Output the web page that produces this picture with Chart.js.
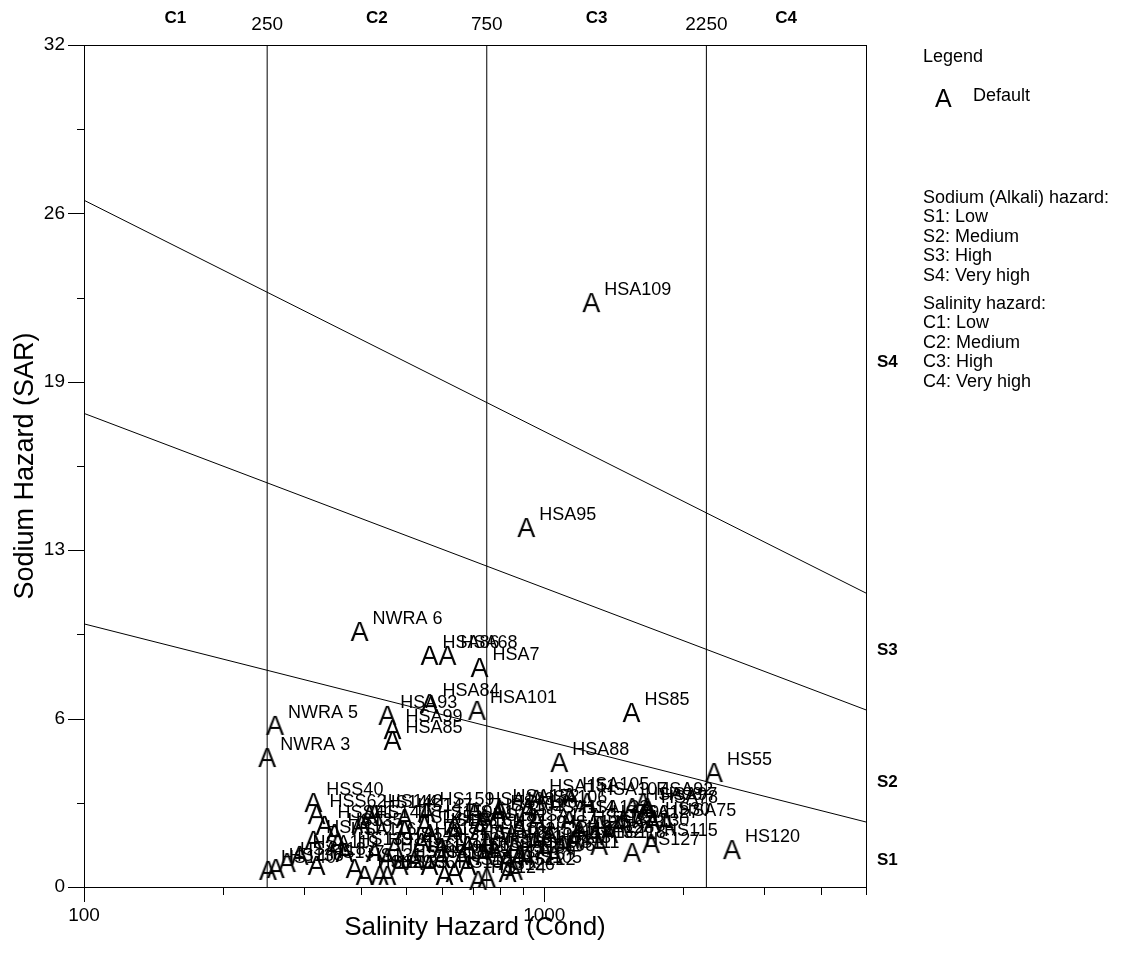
<!DOCTYPE html>
<html>
<head>
<meta charset="utf-8">
<script src="https://cdn.jsdelivr.net/npm/chart.js@4.4.1/dist/chart.umd.min.js"></script>
<style>
  html, body { margin: 0; padding: 0; background: #fff; }
  #wrap { width: 1139px; height: 972px; }
</style>
</head>
<body>
<div id="wrap"><canvas id="chart" width="1139" height="972"></canvas></div>
<script>
// Samples: conductivity (x), sodium adsorption ratio (y), sample name
const conds = [
  1265, 914, 397, 563, 616, 723, 1547, 563, 456, 714, 468, 468, 260, 250, 1078, 2337, 2557,
  251, 261, 276, 315, 320, 315, 320, 350, 356, 387, 407, 439, 456, 428, 555, 705, 417, 497,
  549, 638, 791, 473, 541, 598, 681, 752, 861, 951, 456, 522, 598, 661, 741, 832, 918, 607,
  638, 718, 832, 750, 859, 799, 961, 1133, 1239, 1640, 1680, 1840, 1316, 1552, 1673, 1715,
  1099, 1552, 1706, 1191, 1026, 1000, 1051, 883, 799, 723, 638, 563, 497, 401, 368, 428,
  485, 563, 681, 779, 883, 1161, 1284, 1384, 1455, 1133, 961, 333, 294, 1316, 741, 918
];
const sars = [
  22.23, 13.68, 9.73, 8.82, 8.82, 8.36, 6.65, 6.99, 6.54, 6.73, 6.0, 5.59, 6.16, 4.94, 4.75, 4.37, 1.44,
  0.65, 0.72, 0.95, 3.23, 2.77, 1.79, 0.84, 2.05, 1.71, 0.72, 0.46, 0.46, 0.46, 2.77, 2.85, 2.85, 2.74, 2.62,
  2.36, 2.36, 2.74, 1.52, 1.71, 1.52, 1.60, 1.71, 1.52, 1.71, 1.10, 1.03, 1.10, 1.10, 1.22, 1.03, 1.10, 0.46,
  0.57, 0.27, 0.57, 0.38, 0.65, 2.96, 3.35, 3.42, 3.23, 3.23, 2.93, 2.43, 2.36, 3.04, 3.04, 2.47,
  1.60, 1.33, 1.67, 2.17, 1.98, 1.41, 1.22, 2.24, 1.98, 2.24, 2.05, 2.05, 2.17, 2.36, 1.33, 1.33,
  0.84, 0.84, 0.84, 1.41, 1.22, 1.79, 1.98, 2.05, 2.36, 2.55, 2.55, 2.36, 1.22, 1.60, 2.62, 2.93
];
const names = [
  "HSA109", "HSA95", "NWRA 6", "HSA86", "HSA68", "HSA7", "HS85", "HSA84", "HSA93", "HSA101", "HSA99", "HSA85", "NWRA 5", "NWRA 3", "HSA88", "HS55", "HS120",
  "HS140", "HS138", "HSA118", "HSS40", "HSS62", "HSA110", "HS137", "HS135", "HSA116", "HS131", "HS129", "HS133", "HS136", "HS142", "HS159", "HSA103", "HS144", "HS147",
  "HS150", "HSA104", "HSA100", "HS148", "HS152", "HS155", "HSA108", "HS102", "HS104", "HSA112", "HS146", "HS149", "HS156", "HS158", "HS160", "HS106", "HS108", "HS157",
  "HS154", "HS124", "HS122", "HS126", "HS105", "HSA152", "HSA151", "HSA105", "HSA107", "HSA92", "HSA78", "HSA75", "HSA96", "HSA98", "HSA97", "HS30",
  "HSA132", "HS127", "HS115", "HSA121", "HSA125", "HS113", "HS111", "HSA117", "HS119", "HS162", "HS161", "HS153", "HS145", "HS141", "HS139", "HS143",
  "HS134", "HS151", "HS163", "HS101", "HS107", "HSA128", "HSA131", "HSA130", "HSA127", "HSA123", "HSA114", "HSS41", "HSA119", "HS118", "HSA102", "HSA106"
];

// Salinity class limits and labels
const condBounds = [250, 750, 2250];
const cClasses = ["C1", "C2", "C3", "C4"];
const cClassCenters = [158, 433, 1299, 3354];

// Sodium hazard boundary lines, from EC 100 to EC 5000
const lineEnds = [100, 5000];
const sodiumLow = [10.0, 2.47];
const sodiumMid = [18.0, 6.73];
const sodiumHigh = [26.1, 11.17];
const sClasses = ["S1", "S2", "S3", "S4"];
const sClassSar = [1.03, 3.99, 9.0, 19.95];

// Axis ticks
const xTickValues = [100, 200, 300, 400, 500, 600, 700, 800, 900, 1000, 2000, 3000, 4000, 5000];
const xTickLabels = [100, 1000];
const yTickValues = [0, 3.2, 6.4, 9.6, 12.8, 16, 19.2, 22.4, 25.6, 28.8, 32];

const sodiumText = ["Sodium (Alkali) hazard:", "S1: Low", "S2: Medium", "S3: High", "S4: Very high"];
const salinityText = ["Salinity hazard:", "C1: Low", "C2: Medium", "C3: High", "C4: Very high"];

const FONT = '"Liberation Sans", Arial, sans-serif';

function letterMarker(size) {
  const c = document.createElement('canvas');
  c.width = Math.ceil(size * 0.75);
  c.height = Math.ceil(size * 0.8);
  const g = c.getContext('2d');
  g.font = size + 'px ' + FONT;
  g.textAlign = 'center';
  g.textBaseline = 'alphabetic';
  g.fillStyle = '#000';
  g.fillText('A', c.width / 2, c.height / 2 + size * 0.358);
  return c;
}

const lineSet = (pts) => ({
  type: 'line', data: pts, borderColor: '#000', borderWidth: 1,
  pointRadius: 0, showLine: true, fill: false
});

const datasets = [
  ...condBounds.map(v => lineSet([{x: v, y: 0}, {x: v, y: 32}])),
  ...[sodiumLow, sodiumMid, sodiumHigh].map(s => lineSet(lineEnds.map((x, i) => ({x, y: s[i]})))),
  {
    label: 'Default',
    data: conds.map((x, i) => ({x, y: sars[i]})),
    pointStyle: letterMarker(27),
    pointRadius: 10,
    clip: false
  }
];

const pointLabels = {
  id: 'pointLabels',
  afterDatasetsDraw(chart) {
    const ctx = chart.ctx;
    const meta = chart.getDatasetMeta(chart.data.datasets.length - 1);
    ctx.save();
    ctx.font = '18px ' + FONT;
    ctx.fillStyle = '#000';
    ctx.textBaseline = 'middle';
    ctx.textAlign = 'left';
    meta.data.forEach((el, i) => ctx.fillText(names[i], el.x + 13, el.y - 12));
    ctx.restore();
  }
};

const decor = {
  id: 'decor',
  afterDraw(chart) {
    const ctx = chart.ctx, a = chart.chartArea;
    const xs = chart.scales.x, ys = chart.scales.y;
    ctx.save();
    ctx.strokeStyle = '#000';
    ctx.lineWidth = 1;
    ctx.strokeRect(a.left + 0.5, a.top + 0.5, a.right - a.left, a.bottom - a.top);

    // tick marks, long for labelled ticks
    ctx.beginPath();
    xs.ticks.forEach(t => {
      const px = Math.round(xs.getPixelForValue(t.value)) + 0.5;
      const len = xTickLabels.includes(t.value) ? 15 : 8;
      ctx.moveTo(px, a.bottom); ctx.lineTo(px, a.bottom + len);
    });
    ys.ticks.forEach((t, i) => {
      const py = Math.round(ys.getPixelForValue(t.value)) + 0.5;
      const len = i % 2 === 0 ? 16 : 7;
      ctx.moveTo(a.left - len, py); ctx.lineTo(a.left, py);
    });
    ctx.stroke();

    ctx.fillStyle = '#000';
    ctx.textBaseline = 'middle';

    // class limits along the top
    ctx.textAlign = 'center';
    ctx.font = '19px ' + FONT;
    condBounds.forEach(v => ctx.fillText(String(v), xs.getPixelForValue(v), 25));
    ctx.font = 'bold 17px ' + FONT;
    cClasses.forEach((c, i) => ctx.fillText(c, xs.getPixelForValue(cClassCenters[i]), 18));

    // sodium classes on the right
    ctx.textAlign = 'left';
    sClasses.forEach((s, i) => ctx.fillText(s, a.right + 11, ys.getPixelForValue(sClassSar[i])));

    // legend block
    const lx = 923;
    ctx.font = '18px ' + FONT;
    ctx.fillText('Legend', lx, 57);
    ctx.fillText('Default', 973, 96);
    ctx.font = '25px ' + FONT;
    ctx.textBaseline = 'alphabetic';
    ctx.fillText('A', 935, 107);
    ctx.textBaseline = 'middle';
    ctx.font = '18px ' + FONT;
    sodiumText.forEach((t, i) => ctx.fillText(t, lx, 198 + i * 19.5));
    salinityText.forEach((t, i) => ctx.fillText(t, lx, 304 + i * 19.5));
    ctx.restore();
  }
};

new Chart(document.getElementById('chart'), {
  type: 'scatter',
  data: { datasets },
  options: {
    responsive: false,
    animation: false,
    devicePixelRatio: 1,
    layout: { padding: { top: 45, right: 273, bottom: 0, left: 0 } },
    plugins: { legend: { display: false }, tooltip: { enabled: false } },
    scales: {
      x: {
        type: 'logarithmic',
        min: 100, max: 5000,
        afterBuildTicks: s => { s.ticks = xTickValues.map(v => ({value: v})); },
        afterFit: s => { s.height = 85; },
        grid: { display: false, drawTicks: false },
        border: { display: false },
        ticks: {
          autoSkip: false, maxRotation: 0, padding: 17,
          color: '#000', font: { family: FONT, size: 19 },
          callback: v => xTickLabels.includes(v) ? String(v) : ''
        },
        title: {
          display: true, text: 'Salinity Hazard (Cond)', color: '#000',
          font: { family: FONT, size: 26 }, padding: { top: 0, bottom: 29 }
        }
      },
      y: {
        min: 0, max: 32,
        afterBuildTicks: s => { s.ticks = yTickValues.map(v => ({value: v})); },
        afterFit: s => { s.width = 84; },
        grid: { display: false, drawTicks: false },
        border: { display: false },
        ticks: {
          autoSkip: false, padding: 19,
          color: '#000', font: { family: FONT, size: 19 },
          callback: (v, i) => i % 2 === 0 ? String(Math.round(v)) : ''
        },
        title: {
          display: true, text: 'Sodium Hazard (SAR)', color: '#000',
          font: { family: FONT, size: 27 }, padding: { top: 9, bottom: 0 }
        }
      }
    }
  },
  plugins: [pointLabels, decor]
});
</script>
</body>
</html>
